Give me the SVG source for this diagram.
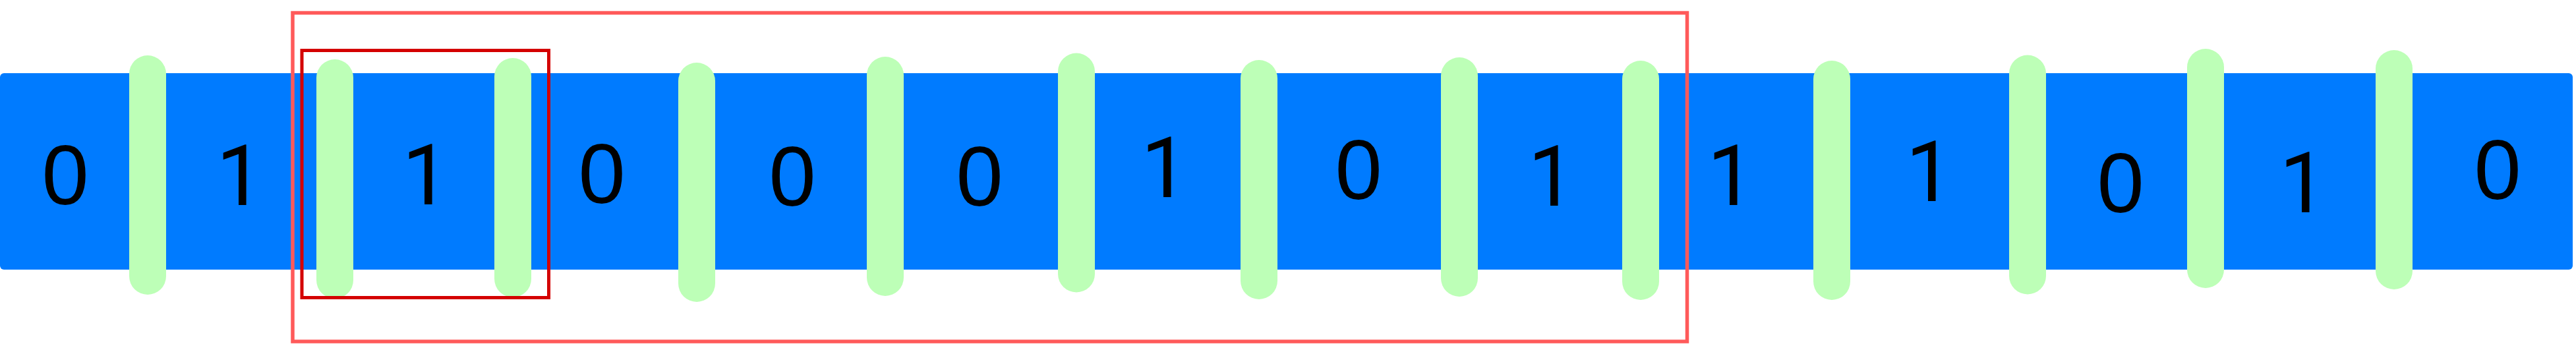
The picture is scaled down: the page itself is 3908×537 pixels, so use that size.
<svg xmlns="http://www.w3.org/2000/svg" width="3908" height="537" viewBox="0 0 3908 537">
<style>
.bar{fill:#007bff;}
.pill{fill:#bdffb7;}
.d{font-family:"Liberation Sans",Arial,sans-serif;font-size:128px;fill:#000;text-anchor:middle;}
.one{font-family:Roboto,"Liberation Sans",sans-serif;font-size:128px;}
.outer{fill:none;stroke:#ff5a5a;stroke-width:5.5;}
.inner{fill:none;stroke:#d40000;stroke-width:5;}
</style>
<rect x="0" y="0" width="3908" height="537" fill="#ffffff"/>
<g id="bar"><rect class="bar" x="0" y="111" width="3903" height="298" rx="6" ry="6"/></g>
<g id="digits">
<g id="cell-1"><text class="d" x="99" y="310">0</text></g>
<g id="cell-2"><text class="d one" x="364" y="311">1</text></g>
<g id="cell-3"><text class="d one" x="646" y="310">1</text></g>
<g id="cell-4"><text class="d" x="913" y="307.5">0</text></g>
<g id="cell-5"><text class="d" x="1202" y="312">0</text></g>
<g id="cell-6"><text class="d" x="1486" y="311.5">0</text></g>
<g id="cell-7"><text class="d one" x="1767" y="299">1</text></g>
<g id="cell-8"><text class="d" x="2061" y="301.5">0</text></g>
<g id="cell-9"><text class="d one" x="2354" y="312">1</text></g>
<g id="cell-10"><text class="d one" x="2626" y="311">1</text></g>
<g id="cell-11"><text class="d one" x="2927" y="305">1</text></g>
<g id="cell-12"><text class="d" x="3217" y="322">0</text></g>
<g id="cell-13"><text class="d one" x="3494" y="322">1</text></g>
<g id="cell-14"><text class="d" x="3789" y="301.5">0</text></g>
</g>
<g id="separators">
<g id="sep-1"><rect class="pill" x="196" y="84" width="56" height="363" rx="28" ry="28"/></g>
<g id="sep-2"><rect class="pill" x="480" y="90" width="56" height="363" rx="28" ry="28"/></g>
<g id="sep-3"><rect class="pill" x="750" y="88" width="56" height="363" rx="28" ry="28"/></g>
<g id="sep-4"><rect class="pill" x="1029" y="95" width="56" height="363" rx="28" ry="28"/></g>
<g id="sep-5"><rect class="pill" x="1315" y="86" width="56" height="363" rx="28" ry="28"/></g>
<g id="sep-6"><rect class="pill" x="1605" y="80.5" width="56" height="363" rx="28" ry="28"/></g>
<g id="sep-7"><rect class="pill" x="1882" y="91" width="56" height="363" rx="28" ry="28"/></g>
<g id="sep-8"><rect class="pill" x="2186" y="87" width="56" height="363" rx="28" ry="28"/></g>
<g id="sep-9"><rect class="pill" x="2461" y="92" width="56" height="363" rx="28" ry="28"/></g>
<g id="sep-10"><rect class="pill" x="2751" y="92" width="56" height="363" rx="28" ry="28"/></g>
<g id="sep-11"><rect class="pill" x="3048" y="83.5" width="56" height="363" rx="28" ry="28"/></g>
<g id="sep-12"><rect class="pill" x="3318" y="74" width="56" height="363" rx="28" ry="28"/></g>
<g id="sep-13"><rect class="pill" x="3604" y="76" width="56" height="363" rx="28" ry="28"/></g>
</g>
<g id="window-outer"><rect class="outer" x="444" y="19.5" width="2115.5" height="498.5"/></g>
<g id="window-inner"><rect class="inner" x="458" y="76.5" width="374.5" height="375"/></g>
</svg>
